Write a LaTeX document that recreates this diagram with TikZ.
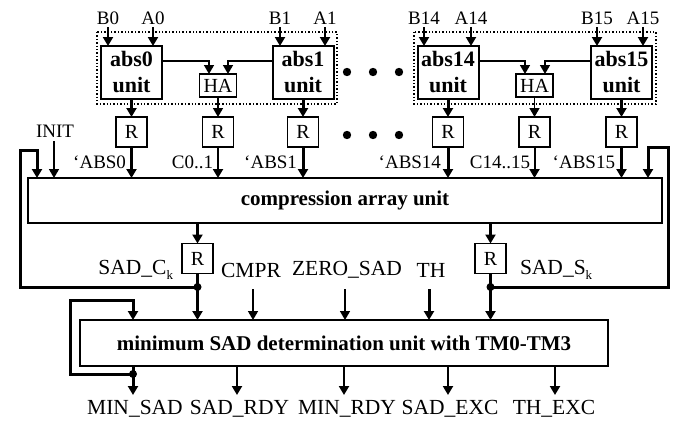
\documentclass[tikz,border=0pt]{standalone}
\usepackage{fontspec}
\setmainfont{Liberation Serif}
\usetikzlibrary{arrows.meta}

\begin{document}
\begin{tikzpicture}[x=1pt,y=-1pt,
  every node/.style={inner sep=0pt, outer sep=0pt},
  lbl/.style={font=\fontsize{19}{21}\selectfont},
  lblb/.style={font=\fontsize{21.5}{23}\selectfont},
  absbox/.style={draw, line width=2pt, minimum width=61pt, minimum height=53pt,
    align=center, font=\fontsize{22}{26}\selectfont\bfseries},
  habox/.style={draw, line width=1.3pt, minimum width=37pt, minimum height=23pt,
    font=\fontsize{20}{22}\selectfont},
  regbox/.style={draw, line width=1.3pt, minimum width=31pt, minimum height=30pt,
    font=\fontsize{20}{22}\selectfont},
  bigbox/.style={draw, line width=1.3pt, font=\fontsize{21}{24}\selectfont\bfseries},
  group/.style={draw, dotted, line width=1.4pt},
  tip/.style={-{Triangle[length=9pt,width=10pt]}},
  thinarrow/.style={tip, line width=1.5pt},
  medarrow/.style={tip, line width=2pt},
  busarrow/.style={tip, line width=3pt},
  busline/.style={line width=3pt},
  junction/.style={circle, fill, minimum size=8pt}
]
\useasboundingbox (0,0) rectangle (680,423);

% dotted groups of absolute-value units
\draw[group] (97,32) rectangle (337,104);
\draw[group] (414,32) rectangle (656,104);

% absolute-value units and half adders
\node[absbox] (abs0)  at (131.5,72.5) {abs0\\unit};
\node[absbox] (abs1)  at (303,72.5)   {abs1\\unit};
\node[absbox] (abs14) at (448,72.5)   {abs14\\unit};
\node[absbox] (abs15) at (621.5,72.5) {abs15\\unit};
\node[habox] (ha01)  at (218,85.5) {HA};
\node[habox] (ha1415) at (534.5,85.5) {HA};

% registers
\node[regbox] (r0)  at (131.5,132) {R};
\node[regbox] (rc0) at (218,132) {R};
\node[regbox] (r1)  at (303,132)   {R};
\node[regbox] (r14) at (448,132)   {R};
\node[regbox] (rc14) at (534.5,132) {R};
\node[regbox] (r15) at (621.5,132) {R};

% main units
\node[bigbox, minimum width=634pt, minimum height=45pt] (comp) at (345,200.5) {compression array unit};
\node[regbox] (rc) at (197.5,258.5) {R};
\node[regbox] (rs) at (490.5,258.5) {R};
\node[bigbox, minimum width=528pt, minimum height=46pt] (minu) at (344,343) {minimum SAD determination unit with TM0-TM3};

% operand inputs
\foreach \nm/\x/\u in {B0/108/abs0, A0/153/abs0, B1/280/abs1, A1/325/abs1,
                       B14/424/abs14, A14/471/abs14, B15/597/abs15, A15/643/abs15}{
  \node[lbl] (in\nm) at (\x,18) {\nm};
  \draw[medarrow] (\x,27) -- (\x,0 |- \u.north);
}

% absolute values into the half adders
\draw[thinarrow] (abs0.east |- 0,61) -| ([xshift=-9pt]ha01.north);
\draw[thinarrow] (abs1.west |- 0,61) -| ([xshift=10pt]ha01.north);
\draw[thinarrow] (abs14.east |- 0,61) -| ([xshift=-9.5pt]ha1415.north);
\draw[thinarrow] (abs15.west |- 0,61) -| ([xshift=10.5pt]ha1415.north);

% into the registers
\draw[busarrow] (abs0.south) -- (r0.north);
\draw[thinarrow] (ha01.south) -- (rc0.north);
\draw[busarrow] (abs1.south) -- (r1.north);
\draw[busarrow] (abs14.south) -- (r14.north);
\draw[thinarrow] (ha1415.south) -- (rc14.north);
\draw[busarrow] (abs15.south) -- (r15.north);

% registers into the compression array
\draw[busarrow] (r0.south) -- (r0.south |- comp.north);
\draw[medarrow] (rc0.south) -- (rc0.south |- comp.north);
\draw[busarrow] (r1.south) -- (r1.south |- comp.north);
\draw[busarrow] (r14.south) -- (r14.south |- comp.north);
\draw[medarrow] (rc14.south) -- (rc14.south |- comp.north);
\draw[busarrow] (r15.south) -- (r15.south |- comp.north);

\node[lbl, anchor=east] (labs0)  at (126,162) {‘ABS0};
\node[lbl, anchor=east] (lc0)    at (213,162) {C0..1};
\node[lbl, anchor=east] (labs1)  at (297,162) {‘ABS1};
\node[lbl, anchor=east] (labs14) at (441,162) {‘ABS14};
\node[lbl, anchor=east] (lc14)   at (530,162) {C14..15};
\node[lbl, anchor=east] (labs15) at (615,162) {‘ABS15};

% ellipses between the groups
\foreach \x in {347,373,399}{
  \fill (\x,72) circle (4.2pt);
  \fill (\x,135) circle (4.2pt);
}

% INIT input
\node[lbl] (init) at (55,131) {INIT};
\coordinate (initsrc) at (54,141);
\draw[thinarrow] (initsrc) -- (initsrc |- comp.north);

% compression outputs through registers
\draw[busarrow] (rc.north |- comp.south) -- (rc.north);
\draw[busarrow] (rs.north |- comp.south) -- (rs.north);
\node[junction] (jc) at (197.5,287) {};
\node[junction] (js) at (490.5,287) {};
\draw[busline] (rc.south) -- (jc.center);
\draw[busline] (rs.south) -- (js.center);
\draw[busarrow] (jc.center) -- (jc.center |- minu.north);
\draw[busarrow] (js.center) -- (js.center |- minu.north);

% accumulation feedback loops
\draw[busarrow] (jc.center) -- (20,287) -- (20,150) -- (37,150) -- (37,0 |- comp.north);
\draw[busarrow] (js.center) -- (668,287) -- (668,147) -- (648,147) -- (648,0 |- comp.north);

\node[lblb, anchor=east] (lsadc) at (173,270) {SAD\_C\raisebox{-0.45ex}{\fontsize{13}{13}\selectfont k}};
\node[lblb, anchor=west] (lsads) at (520,270) {SAD\_S\raisebox{-0.45ex}{\fontsize{13}{13}\selectfont k}};

% control inputs of the minimum unit
\node[lblb] (lcmpr) at (251,270) {CMPR};
\node[lblb] (lzero) at (347,270) {ZERO\_SAD};
\node[lblb] (lth)   at (431,270) {TH};
\draw[thinarrow] (253,289) -- (253,0 |- minu.north);
\draw[thinarrow] (345,289) -- (345,0 |- minu.north);
\draw[busarrow]  (429,289) -- (429,0 |- minu.north);

% outputs
\node[junction] (jm) at (133,374) {};
\coordinate (omin) at (133,395);
\draw[busarrow] (jm.center |- minu.south) -- (omin);
\draw[busarrow] (jm.center) -- (70,374) -- (70,300) -- (133,300) -- (133,0 |- minu.north);
\foreach \x/\lx/\nm in {237/239.5/SAD\_RDY, 344/347/MIN\_RDY, 448/450/SAD\_EXC, 555/554/TH\_EXC}{
  \draw[medarrow] (\x,0 |- minu.south) -- (\x,395);
  \node[lblb] at (\lx,409) {\nm};
}
\node[lblb] (lminsad) at (135,409) {MIN\_SAD};
\end{tikzpicture}
\end{document}
